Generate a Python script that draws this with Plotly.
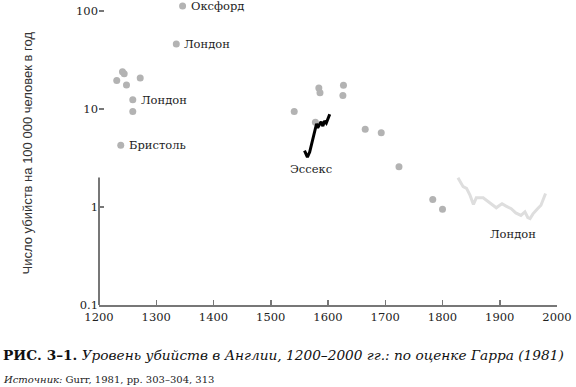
import numpy as np
import plotly.graph_objects as go

# --- Data ---
point_years = [1231, 1241, 1244, 1248, 1272, 1259, 1259, 1238, 1335, 1346,
               1541, 1584, 1586, 1627, 1626, 1578, 1665, 1693, 1724, 1783, 1800]
point_values = [19.5, 24, 22.8, 17.5, 20.7, 12.4, 9.4, 4.25, 46, 112,
                9.4, 16.3, 14.6, 17.4, 13.7, 7.3, 6.2, 5.7, 2.57, 1.19, 0.95]

labeled_names = ["Оксфорд", "Лондон", "Лондон", "Бристоль"]
labeled_years = [1346, 1335, 1259, 1238]
labeled_values = [112, 46, 12.4, 4.25]

essex_years = [1559, 1564, 1568, 1571, 1574, 1577, 1580, 1582, 1585, 1588,
               1591, 1594, 1597, 1600, 1603]
essex_values = [3.75, 3.22, 3.63, 4.33, 5.27, 6.18, 7.06, 6.42, 6.95, 7.39,
                6.68, 7.52, 7.17, 8.01, 8.81]

london_years = [1827, 1836, 1842, 1848, 1854, 1859, 1871, 1879, 1885, 1894,
                1900, 1904, 1911, 1920, 1928, 1937, 1944, 1949, 1953, 1958,
                1966, 1972, 1980]
london_values = [1.99, 1.61, 1.55, 1.32, 1.06, 1.24, 1.24, 1.15, 1.08, 0.98,
                 1.04, 1.08, 1.02, 0.96, 0.87, 0.82, 0.89, 0.78, 0.76, 0.85,
                 0.96, 1.04, 1.37]

x_ticks = [1200, 1300, 1400, 1500, 1600, 1700, 1800, 1900, 2000]
y_ticks = [0.1, 1, 10, 100]
y_ticklabels = ["0.1", "1", "10", "100"]

SERIF = "DejaVu Serif, PT Serif, serif"
SANS = "Liberation Sans Narrow, Liberation Sans, Arial, sans-serif"
AX = "#777777"

fig = go.Figure()
fig.add_trace(go.Scatter(x=london_years, y=london_values, mode="lines",
                         line=dict(color="#dedede", width=3), cliponaxis=False,
                         hoverinfo="skip"))
fig.add_trace(go.Scatter(x=point_years, y=point_values, mode="markers",
                         marker=dict(color="#b3b3b3", size=7), cliponaxis=False))
fig.add_trace(go.Scatter(x=essex_years, y=essex_values, mode="lines",
                         line=dict(color="#000000", width=3), cliponaxis=False))

annotations = []
for name, yr, val in zip(labeled_names, labeled_years, labeled_values):
    annotations.append(dict(x=yr, y=np.log10(val), xref="x", yref="y",
                            text=name, showarrow=False, xanchor="left",
                            yanchor="middle", xshift=6,
                            font=dict(family=SERIF, size=11.5, color="#222")))
annotations.append(dict(x=1570, y=np.log10(2.42), xref="x", yref="y",
                        text="Эссекс", showarrow=False, xanchor="center",
                        yanchor="middle",
                        font=dict(family=SERIF, size=11.5, color="#222")))
annotations.append(dict(x=1924, y=np.log10(0.526), xref="x", yref="y",
                        text="Лондон", showarrow=False, xanchor="center",
                        yanchor="middle",
                        font=dict(family=SERIF, size=11.5, color="#222")))
annotations.append(dict(x=-0.154, y=0.505, xref="paper", yref="paper",
                        text="Число убийств на 100 000 человек в год",
                        textangle=-90, showarrow=False, xanchor="center",
                        yanchor="middle",
                        font=dict(family=SANS, size=13, color="#333")))
annotations.append(dict(x=-0.215, y=-0.166, xref="paper", yref="paper",
                        text="<b>РИС. 3–1.</b> <i>Уровень убийств в Англии, 1200–2000 гг.: по оценке Гарра (1981)</i>",
                        showarrow=False, xanchor="left", yanchor="middle",
                        font=dict(family=SERIF, size=13.7, color="#111")))
annotations.append(dict(x=-0.215, y=-0.246, xref="paper", yref="paper",
                        text="<i>Источник:</i> Gurr, 1981, pp. 303–304, 313",
                        showarrow=False, xanchor="left", yanchor="middle",
                        font=dict(family=SERIF, size=10, color="#222")))

# y-axis line drawn only between the lowest and highest tick value
shapes = [dict(type="line", xref="paper", yref="y", x0=0, x1=0, layer="above",
               y0=np.log10(y_ticks[0]), y1=np.log10(y_ticks[-1]),
               line=dict(color=AX, width=2))]

fig.update_layout(
    width=576, height=387,
    margin=dict(l=99, r=17, t=4, b=82),
    paper_bgcolor="white", plot_bgcolor="white",
    showlegend=False,
    hovermode=False,
    annotations=annotations,
    shapes=shapes,
    xaxis=dict(range=[1200, 2000], tickvals=x_ticks, ticks="inside",
               ticklen=5, tickcolor=AX, tickwidth=1.5,
               showline=True, linecolor=AX, linewidth=2,
               showgrid=False, zeroline=False,
               tickfont=dict(family=SERIF, size=11.5, color="#222")),
    yaxis=dict(type="log", range=[-1, 2.07], tickvals=y_ticks, ticktext=y_ticklabels,
               ticks="inside", ticklen=5, tickcolor=AX, tickwidth=1.5,
               showline=False,
               showgrid=False, zeroline=False,
               tickfont=dict(family=SERIF, size=11.5, color="#222")),
)

fig.write_html("out.html", config={"staticPlot": True},
               post_script="document.body.style.margin='0';")
